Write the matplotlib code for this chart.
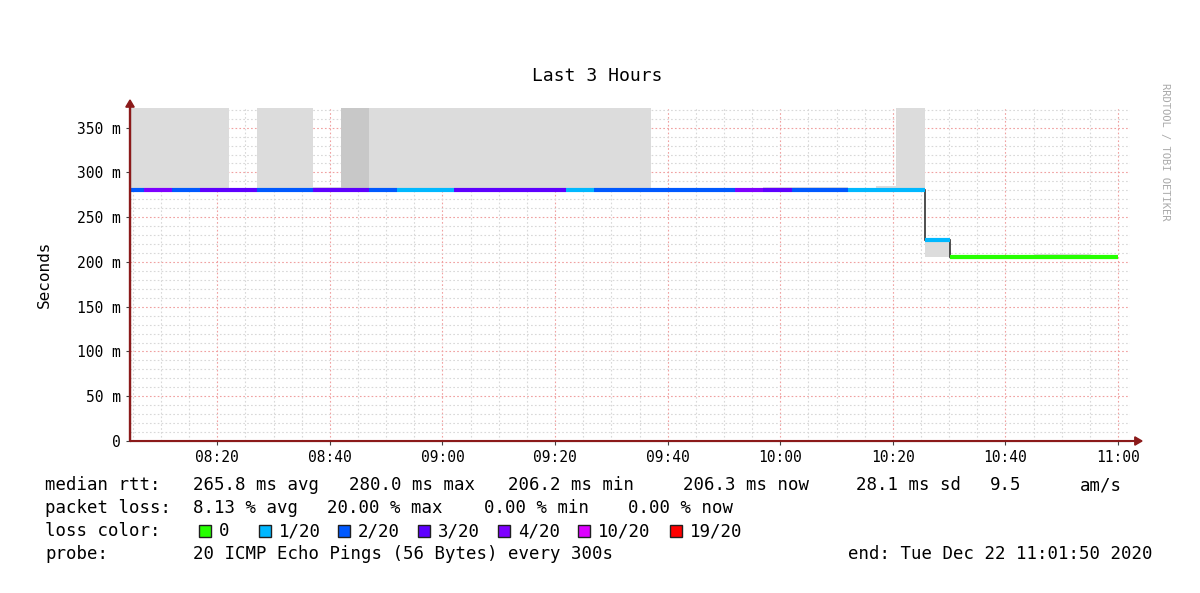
import numpy as np
import matplotlib
matplotlib.use("Agg")
import matplotlib.pyplot as plt

# ---- data (minutes after 08:00, 5-minute bins) ----
bin_edges = np.array([2, 7, 12, 17, 22, 27, 32, 37, 42, 47, 52, 57, 62, 67, 72, 77, 82, 87, 92, 97,
                      102, 107, 112, 117, 122, 127, 132, 137, 140.5, 145.7, 150.2, 155, 160, 165,
                      170, 175, 180])
median_ms = [280]*29 + [225] + [206]*6
loss_idx = [2, 4, 2, 3, 3, 2, 2, 3, 3, 2,
            1, 1, 3, 3, 3, 3, 1, 2, 2, 2,
            2, 2, 4, 3, 2, 2, 1, 1, 1, 1,
            0, 0, 0, 0, 0, 0]
smoke_lo = [279]*29 + [206] + [205]*6
smoke_hi = [400, 400, 400, 400, 283, 400, 400, 284, 400, 400,
            400, 400, 400, 400, 400, 400, 400, 400, 400, 282,
            283, 282, 283, 284, 284, 284, 283, 285, 400, 225,
            208, 208, 208, 209, 209, 208]
inner_hi = [280]*8 + [400] + [280]*20 + [225] + [206]*6
loss_labels = ["0", "1/20", "2/20", "3/20", "4/20", "10/20", "19/20"]
loss_colors = ["#26ff00", "#00b8ff", "#0059ff", "#5e00ff", "#7e00ff", "#dd00ff", "#ff0000"]
ytick_vals = [0, 50, 100, 150, 200, 250, 300, 350]
ytick_labels = ["0", "50 m", "100 m", "150 m", "200 m", "250 m", "300 m", "350 m"]
xtick_vals = [20, 40, 60, 80, 100, 120, 140, 160, 180]
xtick_labels = ["08:20", "08:40", "09:00", "09:20", "09:40", "10:00", "10:20", "10:40", "11:00"]

W, H = 1200, 593
fig = plt.figure(figsize=(12, 5.93), dpi=100)
mono = "DejaVu Sans Mono"
ax = fig.add_axes([130/W, (H-441)/H, 1000/W, 333/H])
ax.set_xlim(4.5, 4.5 + 1000/5.63)
ax.set_ylim(0, 372)

# grid
for m in np.arange(5, 185, 5):
    major = m % 20 == 0
    ax.axvline(m, color="#f0a0a0" if major else "#d8d8d8", lw=0.8, ls=(0, (1.5, 2)), zorder=0)
for v in np.arange(10, 372, 10):
    major = v % 50 == 0
    ax.axhline(v, color="#f0a0a0" if major else "#d8d8d8", lw=0.8, ls=(0, (1.5, 2)), zorder=0)

ax.stairs(smoke_hi, bin_edges, baseline=smoke_lo, fill=True, color="#dcdcdc", zorder=1, lw=0)
ax.stairs(inner_hi, bin_edges, baseline=median_ms, fill=True, color="#c8c8c8", zorder=1, lw=0)
ax.stairs(median_ms, bin_edges, baseline=None, color="#303030", lw=1.2, zorder=2)
for i, v in enumerate(median_ms):
    ax.hlines(v, bin_edges[i], bin_edges[i+1], color=loss_colors[loss_idx[i]], lw=3, zorder=3)

for s in ["top", "right"]:
    ax.spines[s].set_visible(False)
for s in ["left", "bottom"]:
    ax.spines[s].set_color("#404040")
ax.set_yticks(ytick_vals)
ax.set_yticklabels(ytick_labels, fontfamily=mono, fontsize=10.5)
ax.set_xticks(xtick_vals)
ax.set_xticklabels(xtick_labels, fontfamily=mono, fontsize=10.5)
ax.tick_params(length=3, color="#404040")
ax.set_ylabel("Seconds", fontfamily=mono, fontsize=11.5, labelpad=18)

# arrows
fig.patches.append(matplotlib.patches.FancyArrow(130/W, (H-441)/H, 0, 341/H, width=0.0008,
                   head_width=0.007, head_length=0.012, color="#8b1a1a", transform=fig.transFigure, length_includes_head=True))
fig.patches.append(matplotlib.patches.FancyArrow(130/W, (H-441)/H, 1012/W, 0, width=0.0012,
                   head_width=0.014, head_length=0.006, color="#8b1a1a", transform=fig.transFigure, length_includes_head=True))

fig.text(597/W, 1-76/H, "Last 3 Hours", ha="center", va="center", fontfamily=mono, fontsize=13)
fig.text(1165/W, 1-152/H, "RRDTOOL / TOBI OETIKER", rotation=-90, ha="center", va="center",
         fontfamily=mono, fontsize=7.5, color="#aaaaaa")

fs = 12.5
def t(x, y, s, **kw):
    fig.text(x/W, 1-y/H, s, fontfamily=mono, fontsize=fs, va="center", **kw)

t(45, 485, "median rtt:")
for x, s in [(193, "265.8 ms avg"), (349, "280.0 ms max"), (508, "206.2 ms min"),
             (683, "206.3 ms now"), (856, "28.1 ms sd"), (990, "9.5"), (1080, "am/s")]:
    t(x, 485, s)
t(45, 508, "packet loss:")
for x, s in [(193, "8.13 % avg"), (327, "20.00 % max"), (484, "0.00 % min"), (628, "0.00 % now")]:
    t(x, 508, s)
t(45, 531, "loss color:")
box_x = [199, 259, 338, 418, 498, 578, 670]
for bx, lab, col in zip(box_x, loss_labels, loss_colors):
    fig.patches.append(matplotlib.patches.Rectangle((bx/W, 1-537/H), 12/W, 12/H, facecolor=col,
                       edgecolor="#202020", lw=1, transform=fig.transFigure))
    t(bx+20, 531, lab)
t(45, 554, "probe:")
t(193, 554, "20 ICMP Echo Pings (56 Bytes) every 300s")
t(1152, 554, "end: Tue Dec 22 11:01:50 2020", ha="right")

fig.savefig("out.png", dpi=100)
